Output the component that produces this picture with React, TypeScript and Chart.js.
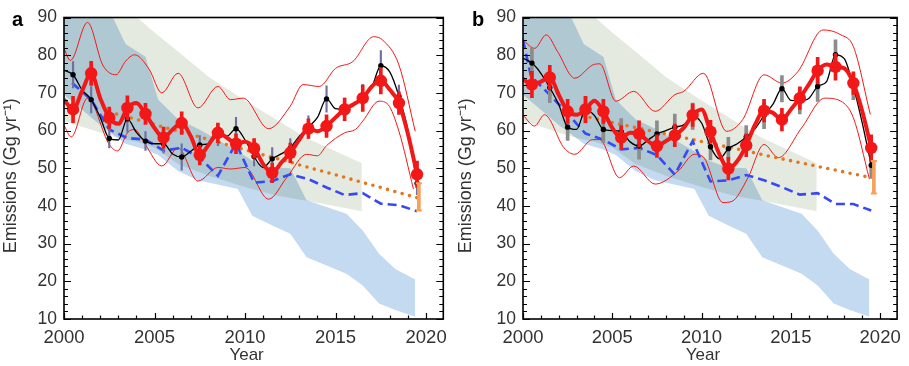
import React, { useEffect, useRef } from 'react';
import { Chart, registerables } from 'chart.js';

// ---- plugin that multiplies band fills (registered before the filler so it wraps it)
const multiplyPlugin = {
  id: 'multiplyBands',
  beforeDatasetDraw(chart: any, args: any) {
    const ds: any = chart.data.datasets[args.index];
    if (ds && ds.multiply) {
      chart.ctx.save();
      chart.ctx.globalCompositeOperation = 'multiply';
    }
  },
  afterDatasetDraw(chart: any, args: any) {
    const ds: any = chart.data.datasets[args.index];
    if (ds && ds.multiply) chart.ctx.restore();
  },
};
Chart.register(multiplyPlugin as any);
Chart.register(...registerables);

const FONT = "'Liberation Sans', Arial, Helvetica, sans-serif";

// ---------------- DATA ----------------
const X_TICK_YEARS = [2000, 2001, 2002, 2003, 2004, 2005, 2006, 2007, 2008, 2009, 2010, 2011, 2012, 2013, 2014, 2015, 2016, 2017, 2018, 2019, 2020];
const Y_TICK_VALUES = [10, 12, 14, 16, 18, 20, 22, 24, 26, 28, 30, 32, 34, 36, 38, 40, 42, 44, 46, 48, 50, 52, 54, 56, 58, 60, 62, 64, 66, 68, 70, 72, 74, 76, 78, 80, 82, 84, 86, 88, 90];

const PT_YEARS = [2000.5, 2001.5, 2002.5, 2003.5, 2004.5, 2005.5, 2006.5, 2007.5, 2008.5, 2009.5, 2010.5, 2011.5, 2012.5, 2013.5, 2014.5, 2015.5, 2016.5, 2017.5, 2018.5, 2019.5];
const MID_YEARS = [2000, 2001, 2002, 2003, 2004, 2005, 2006, 2007, 2008, 2009, 2010, 2011, 2012, 2013, 2014, 2015, 2016, 2017, 2018, 2019];
const ORANGE_YEARS = [2002.5, 2003.5, 2004.5, 2005.5, 2006.5, 2007.5, 2008.5, 2009.5, 2010.5, 2011.5, 2012.5, 2013.5, 2014.5, 2015.5, 2016.5, 2017.5, 2018.5, 2019.5];

// shared bands
const GREEN_YEARS = [2000, 2001, 2002, 2003, 2004, 2005, 2006.3, 2008, 2010, 2011.8, 2013.4, 2016.45];
const GREEN_HI = [108, 103.5, 99, 94.5, 90.2, 86, 81, 74.2, 68, 62.7, 58, 51.3];
const GREEN_LO = [62.5, 61, 59.5, 58, 57, 55.5, 51.1, 48, 45, 42.7, 41.4, 38.6];
const BLUEBAND_YEARS = [2000, 2001, 2002, 2002.7, 2003.4, 2004.5, 2005.2, 2006.3, 2007.4, 2009.6, 2010.4, 2011.5, 2012.5, 2013.4, 2015.6, 2016.5, 2017.4, 2018.3, 2019.4];
const BLUEBAND_HI = [100, 96, 92.5, 90, 83, 79.6, 68.2, 63, 60.5, 54.5, 52, 50.2, 50, 41.5, 37.9, 33.5, 27.3, 23.3, 20.5];
const BLUEBAND_LO = [69.5, 65.5, 61.5, 59, 56.5, 55, 53.5, 49.3, 46.8, 44.5, 37.4, 34.8, 32.6, 26.4, 22, 18.9, 14.1, 12.4, 10.6];

// panel a
const A_RED = [65.6, 75.2, 63.4, 66.0, 64.4, 58.1, 62.0, 53.5, 59.4, 56.5, 55.3, 48.8, 54.1, 60.5, 61.2, 65.6, 68.6, 73.2, 67.3, 48.4];
const A_RED_MID = [68.2, 70.5, 68.6, 61.8, 67.3, 60.7, 60.3, 58.5, 56.3, 58.1, 57.0, 51.1, 51.5, 57.6, 59.8, 63.5, 67.0, 71.7, 70.8, 59.0];
const A_RED_ERR = [3.5, 3.2, 2.8, 3.2, 2.8, 2.8, 3.0, 2.6, 2.6, 2.6, 2.6, 2.6, 2.6, 2.6, 3.0, 3.0, 3.5, 3.5, 3.0, 3.5];
const A_BLACK = [74.8, 68.2, 57.9, 63.1, 57.2, 56.5, 53.0, 56.2, 58.5, 60.5, 53.1, 52.5, 55.4, 60.9, 68.4, 65.6, 68.8, 77.2, 69.1, 46.0];
const A_BLACK_MID = [76.0, 70.8, 63.5, 57.5, 59.5, 56.5, 53.8, 54.5, 56.5, 58.5, 57.5, 50.2, 53.8, 58.5, 63.5, 65.8, 66.8, 71.5, 75.5, 60.0];
const A_BLACK_ERR = [3.5, 3.5, 2.5, 3.5, 2.5, 2.5, 3.5, 2.5, 2.5, 3.0, 2.5, 3.0, 2.5, 3.0, 3.5, 3.0, 3.5, 4.0, 3.0, 3.0];
const A_BLUE_YEARS = [2000.45, 2001.5, 2002.5, 2003.5, 2004.5, 2005.5, 2006.5, 2007.5, 2008.5, 2009.5, 2010.5, 2011.5, 2012.5, 2013.5, 2014.5, 2015.5, 2016.5, 2017.5, 2018.5, 2019.5];
const A_BLUE = [72.6, 68.2, 60.3, 58.0, 57.6, 54.7, 55.4, 52.8, 48.0, 56.6, 46.2, 46.6, 48.4, 47.1, 44.9, 42.9, 43.4, 40.6, 40.2, 38.6];
const A_ORANGE = [64.9, 63.6, 62.3, 60.9, 59.6, 58.3, 56.9, 55.6, 54.2, 52.9, 51.6, 50.2, 48.9, 47.6, 46.2, 44.9, 43.5, 42.2];
const A_ORANGE_BAR_YEAR = 2019.6;
const A_ORANGE_BAR = [38.8, 46.0];
const A_UP_YEARS = [2000.0, 2000.35, 2001.3, 2002.14, 2002.87, 2003.4, 2003.9, 2004.7, 2005.4, 2006.3, 2007.4, 2008.5, 2009.2, 2009.9, 2011.3, 2012.5, 2013.2, 2014.1, 2015.0, 2015.95, 2017.1, 2017.6, 2018.5, 2019.4];
const A_UP = [81.8, 78.6, 88.7, 77.4, 74.8, 78.4, 80.1, 76.3, 70.0, 75.2, 66.0, 71.7, 68.2, 68.6, 60.5, 66.5, 72.2, 71.7, 76.5, 78.3, 84.9, 84.0, 77.4, 59.8];
const A_LO_YEARS = [2000.0, 2000.4, 2001.3, 2002.5, 2002.96, 2003.5, 2003.9, 2004.5, 2005.4, 2006.3, 2007.4, 2008.5, 2009.2, 2010.0, 2011.3, 2012.3, 2013.4, 2014.0, 2014.5, 2015.5, 2016.1, 2016.5, 2017.4, 2017.9, 2018.5, 2019.3];
const A_LO = [61.4, 58.3, 68.6, 56.3, 54.6, 59.4, 60.3, 56.2, 50.6, 55.4, 46.6, 50.2, 49.8, 50.2, 41.8, 47.5, 53.7, 53.3, 56.0, 59.4, 60.3, 62.5, 67.8, 66.9, 59.8, 44.5];

// panel b
const B_RED = [72.2, 74.1, 65.1, 65.6, 65.1, 58.1, 59.1, 55.9, 58.7, 64.1, 59.7, 49.9, 56.1, 65.3, 62.9, 68.6, 75.9, 76.9, 72.6, 55.4];
const B_RED_MID = [73.7, 73.0, 69.5, 64.2, 67.9, 60.7, 59.4, 57.2, 57.2, 60.7, 65.6, 53.7, 51.9, 61.6, 64.7, 65.6, 72.2, 77.5, 76.5, 65.1];
const B_RED_ERR = [3.5, 3.2, 3.2, 3.5, 3.2, 3.2, 3.5, 3.0, 3.0, 3.0, 3.0, 3.0, 3.0, 3.0, 3.0, 3.0, 3.5, 3.5, 3.0, 3.5];
const B_BLACK = [77.9, 71.4, 60.9, 65.5, 60.3, 59.7, 55.9, 59.1, 60.9, 63.8, 55.7, 55.2, 58.3, 64.0, 71.1, 67.9, 71.7, 80.1, 71.7, 50.8];
const B_BLACK_MID = [79.2, 75.2, 66.9, 60.3, 64.0, 60.0, 57.0, 57.5, 60.0, 61.5, 62.0, 52.5, 56.5, 60.5, 67.0, 68.0, 68.5, 73.0, 79.0, 62.0];
const B_BLACK_ERR = [4.0, 4.0, 3.5, 3.5, 3.5, 3.5, 3.5, 3.5, 3.5, 3.5, 3.5, 3.0, 3.0, 3.5, 3.5, 3.5, 4.0, 4.0, 3.5, 3.5];
const B_BLUE_YEARS = [2000.0, 2000.45, 2001.5, 2002.5, 2003.5, 2004.5, 2005.5, 2006.5, 2007.5, 2008.5, 2009.5, 2010.5, 2011.5, 2012.5, 2013.5, 2014.5, 2015.5, 2016.5, 2017.5, 2018.5, 2019.5];
const B_BLUE = [84.0, 74.4, 69.5, 64.5, 59.2, 57.6, 55.0, 55.4, 53.5, 48.3, 57.2, 46.5, 46.8, 48.2, 46.8, 45.0, 43.0, 43.4, 40.5, 40.5, 38.8];
const B_ORANGE = [64.7, 63.7, 62.7, 61.6, 60.6, 59.6, 58.6, 57.6, 56.6, 55.6, 54.6, 53.5, 52.5, 51.5, 50.5, 49.5, 48.5, 47.5];
const B_ORANGE_BAR_YEAR = 2019.65;
const B_ORANGE_BAR = [43.3, 51.9];
const B_UP_YEARS = [2000.0, 2000.65, 2001.3, 2001.93, 2002.9, 2003.9, 2004.3, 2005.2, 2006.2, 2007.4, 2008.5, 2009.0, 2010.1, 2011.4, 2012.3, 2013.5, 2014.5, 2015.4, 2016.8, 2017.8, 2018.5, 2019.45];
const B_UP = [84.0, 81.8, 85.4, 81.0, 73.9, 77.4, 77.7, 67.8, 70.4, 65.1, 69.5, 70.4, 75.2, 59.8, 62.9, 74.8, 72.6, 75.7, 86.7, 85.4, 82.3, 64.3];
const B_LO_YEARS = [2000.0, 2000.65, 2001.2, 2002.3, 2002.9, 2003.9, 2004.3, 2005.4, 2006.2, 2007.4, 2008.7, 2009.6, 2010.1, 2011.2, 2011.7, 2012.6, 2013.5, 2014.3, 2015.6, 2016.9, 2017.8, 2018.5, 2019.4];
const B_LO = [64.1, 61.2, 64.2, 55.4, 53.7, 57.6, 57.6, 47.5, 50.6, 45.8, 49.3, 53.7, 53.0, 40.9, 41.2, 47.5, 56.3, 52.8, 60.7, 68.6, 67.8, 63.4, 47.1];

// ---------------- STYLE ----------------
const RED = 'rgb(242,24,24)';
const GREEN_FILL = 'rgb(228,234,224)';
const BLUE_FILL = 'rgb(196,218,240)';
const BLUE_LINE = 'rgb(55,72,245)';
const ORANGE_DOT = 'rgb(226,118,32)';
const ORANGE_BAR_C = 'rgb(246,160,88)';

const xy = (xs: number[], ys: number[]) => xs.map((x, i) => ({ x, y: ys[i] }));
const merged = (ax: number[], ay: number[], bx: number[], by: number[]) =>
  [...xy(ax, ay), ...xy(bx, by)].sort((p, q) => p.x - q.x);
const errs = (xs: number[], ys: number[], es: number[]) => xs.map((x, i) => ({ x, y: [ys[i] - es[i], ys[i] + es[i]] }));

const frameTicksPlugin = {
  id: 'frameTicks',
  afterDatasetsDraw(chart: any, _args: any, opts: any) {
    const { ctx, chartArea, scales } = chart;
    const { left, right, top, bottom } = chartArea;
    const x = scales.x, y = scales.y;
    ctx.save();
    ctx.strokeStyle = '#000';
    ctx.lineWidth = 1.2;
    ctx.beginPath();
    for (const yr of X_TICK_YEARS) {
      const px = Math.round(x.getPixelForValue(yr)) + 0.5;
      const len = yr % 5 === 0 ? 6 : 3.5;
      ctx.moveTo(px, bottom);
      ctx.lineTo(px, bottom - len);
    }
    for (const v of Y_TICK_VALUES) {
      const py = Math.round(y.getPixelForValue(v)) + 0.5;
      const len = v % 10 === 0 ? 7 : 4;
      ctx.moveTo(left, py);
      ctx.lineTo(left + len, py);
      ctx.moveTo(right, py);
      ctx.lineTo(right - len, py);
    }
    ctx.stroke();
    ctx.lineWidth = 1.6;
    ctx.strokeRect(left, top, right - left, bottom - top);
    if (opts && opts.label) {
      ctx.fillStyle = '#000';
      ctx.font = `bold 20px ${FONT}`;
      ctx.textAlign = 'left';
      ctx.textBaseline = 'alphabetic';
      ctx.fillText(opts.label, opts.labelX, 26);
    }
    ctx.restore();
  },
};

type PanelData = {
  label: string; labelX: number; yWidth: number; padRight: number;
  red: number[]; redMid: number[]; redErr: number[];
  black: number[]; blackMid: number[]; blackErr: number[];
  blueYears: number[]; blue: number[]; orange: number[];
  barYear: number; bar: number[];
  upYears: number[]; up: number[]; loYears: number[]; lo: number[];
  blackErrColor: string; blackErrWidth: number;
};

function buildConfig(p: PanelData): any {
  const datasets: any[] = [
    { type: 'line', data: xy(GREEN_YEARS, GREEN_HI), fill: '+1', backgroundColor: GREEN_FILL, borderWidth: 0, pointRadius: 0, multiply: true, order: 30 },
    { type: 'line', data: xy(GREEN_YEARS, GREEN_LO), fill: false, borderWidth: 0, pointRadius: 0, order: 30 },
    { type: 'line', data: xy(BLUEBAND_YEARS, BLUEBAND_HI), fill: '+1', backgroundColor: BLUE_FILL, borderWidth: 0, pointRadius: 0, multiply: true, order: 29 },
    { type: 'line', data: xy(BLUEBAND_YEARS, BLUEBAND_LO), fill: false, borderWidth: 0, pointRadius: 0, order: 29 },
    { type: 'line', data: xy(p.upYears, p.up), borderColor: RED, borderWidth: 1, pointRadius: 0, cubicInterpolationMode: 'monotone', fill: false, order: 20 },
    { type: 'line', data: xy(p.loYears, p.lo), borderColor: RED, borderWidth: 1, pointRadius: 0, cubicInterpolationMode: 'monotone', fill: false, order: 20 },
    { type: 'line', data: xy(ORANGE_YEARS, p.orange), borderColor: ORANGE_DOT, borderWidth: 3.6, borderDash: [0, 7.6], borderCapStyle: 'round', pointRadius: 0, fill: false, order: 18 },
    { type: 'line', data: xy(p.blueYears, p.blue), borderColor: BLUE_LINE, borderWidth: 2.6, borderDash: [9, 5], pointRadius: 0, fill: false, order: 17 },
    { type: 'bar', data: errs(PT_YEARS, p.black, p.blackErr), backgroundColor: p.blackErrColor, barThickness: p.blackErrWidth, grouped: false, borderWidth: 0, order: 15 },
    { type: 'line', data: merged(PT_YEARS, p.black, MID_YEARS, p.blackMid), borderColor: '#000', borderWidth: 1.3, pointRadius: 0, cubicInterpolationMode: 'monotone', fill: false, order: 14 },
    { type: 'scatter', data: xy(PT_YEARS, p.black), backgroundColor: '#000', borderWidth: 0, pointRadius: 2.7, order: 13 },
    { type: 'bar', data: errs(PT_YEARS, p.red, p.redErr), backgroundColor: RED, barThickness: 3, grouped: false, borderWidth: 0, order: 12 },
    { type: 'line', data: merged(PT_YEARS, p.red, MID_YEARS, p.redMid), borderColor: RED, borderWidth: 4, pointRadius: 0, cubicInterpolationMode: 'monotone', fill: false, order: 11 },
    { type: 'scatter', data: xy(PT_YEARS, p.red), backgroundColor: RED, borderWidth: 0, pointRadius: 6.2, order: 10 },
    { type: 'bar', data: [{ x: p.barYear, y: p.bar }], backgroundColor: ORANGE_BAR_C, barThickness: 3, grouped: false, borderWidth: 0, order: 5 },
    { type: 'scatter', data: [{ x: p.barYear, y: p.bar[0] }, { x: p.barYear, y: p.bar[1] }], pointStyle: 'line', borderColor: ORANGE_BAR_C, borderWidth: 2, pointRadius: 3, order: 5 },
  ];
  return {
    type: 'line',
    data: { datasets },
    options: {
      responsive: false,
      maintainAspectRatio: false,
      animation: false,
      events: [],
      layout: { padding: { top: 16, right: p.padRight, left: 0, bottom: 0 } },
      plugins: {
        legend: { display: false },
        tooltip: { enabled: false },
        frameTicks: { label: p.label, labelX: p.labelX },
      },
      scales: {
        x: {
          type: 'linear', min: 2000, max: 2020.95, offset: false,
          grid: { display: false, drawTicks: false },
          border: { display: false },
          ticks: { stepSize: 5, includeBounds: false, autoSkip: false, maxRotation: 0, padding: 8, color: '#333', font: { family: FONT, size: 18.5 }, callback: (v: any) => String(v) },
          title: { display: true, text: 'Year\u00A0\u00A0\u00A0', color: '#333', font: { family: FONT, size: 17 }, padding: { top: 0, bottom: 0 } },
          afterFit: (s: any) => { s.height = 47; },
        },
        y: {
          type: 'linear', min: 10, max: 90,
          grid: { display: false, drawTicks: false },
          border: { display: false },
          ticks: { stepSize: 10, padding: 7, color: '#333', font: { family: FONT, size: 17.5 }, callback: (v: any) => String(v) },
          title: { display: true, text: 'Emissions (Gg yr\u207B\u00B9)\u00A0\u00A0\u00A0', color: '#333', font: { family: FONT, size: 18 }, padding: { top: 0, bottom: 0 } },
          afterFit: (s: any) => { s.width = p.yWidth; },
        },
      },
    },
    plugins: [frameTicksPlugin],
  };
}

const PANEL_A: PanelData = {
  label: 'a', labelX: 12, yWidth: 64, padRight: 7,
  red: A_RED, redMid: A_RED_MID, redErr: A_RED_ERR,
  black: A_BLACK, blackMid: A_BLACK_MID, blackErr: A_BLACK_ERR,
  blueYears: A_BLUE_YEARS, blue: A_BLUE, orange: A_ORANGE,
  barYear: A_ORANGE_BAR_YEAR, bar: A_ORANGE_BAR,
  upYears: A_UP_YEARS, up: A_UP, loYears: A_LO_YEARS, lo: A_LO,
  blackErrColor: 'rgb(112,112,160)', blackErrWidth: 1.5,
};
const PANEL_B: PanelData = {
  label: 'b', labelX: 17, yWidth: 68, padRight: 2,
  red: B_RED, redMid: B_RED_MID, redErr: B_RED_ERR,
  black: B_BLACK, blackMid: B_BLACK_MID, blackErr: B_BLACK_ERR,
  blueYears: B_BLUE_YEARS, blue: B_BLUE, orange: B_ORANGE,
  barYear: B_ORANGE_BAR_YEAR, bar: B_ORANGE_BAR,
  upYears: B_UP_YEARS, up: B_UP, loYears: B_LO_YEARS, lo: B_LO,
  blackErrColor: 'rgb(140,140,140)', blackErrWidth: 3,
};

function Panel({ data, left, width }: { data: PanelData; left: number; width: number }) {
  const ref = useRef<HTMLCanvasElement | null>(null);
  useEffect(() => {
    if (!ref.current) return;
    const chart = new Chart(ref.current, buildConfig(data));
    return () => chart.destroy();
  }, [data]);
  return (
    <canvas
      ref={ref}
      width={width}
      height={366}
      style={{ position: 'absolute', left, top: 0, width, height: 366 }}
    />
  );
}

export default function App() {
  return (
    <div style={{ position: 'fixed', left: 0, top: 0, width: 909, height: 366, background: '#fff', overflow: 'hidden' }}>
      <Panel data={PANEL_A} left={0} width={455} />
      <Panel data={PANEL_B} left={455} width={454} />
    </div>
  );
}
